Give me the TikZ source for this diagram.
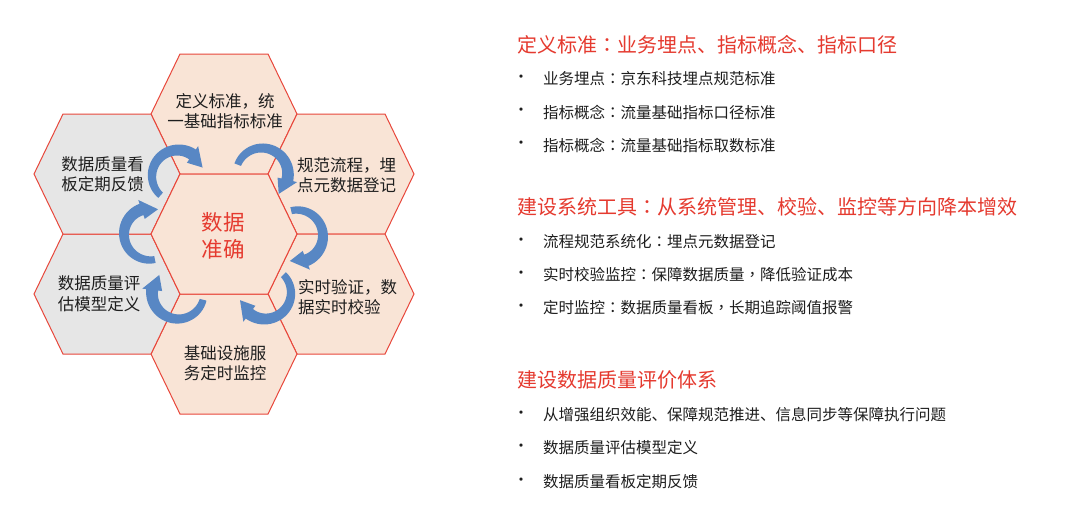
\documentclass[tikz,border=0pt]{standalone}
\usepackage{fontspec}
\setmainfont{Noto Sans CJK SC}
\newfontfamily\tcpunct{Noto Sans CJK TC}
\newcommand\cc{{\tcpunct ：}}
\newcommand\cm{{\tcpunct ，}}
\definecolor{peach}{HTML}{F9E4D6}
\definecolor{hexgray}{HTML}{E6E6E6}
\definecolor{hexred}{HTML}{E8473B}
\definecolor{txtred}{HTML}{E53A2F}
\definecolor{txt}{HTML}{1E1E1E}
\definecolor{arrblue}{HTML}{5887C4}
\newcommand\hexat[3]{\draw[hexline,fill=#3] (#1+73,#2) -- (#1+44,#2+60) -- (#1-44,#2+60) -- (#1-73,#2) -- (#1-44,#2-60) -- (#1+44,#2-60) -- cycle;}
\newcommand\curvarrow[3]{%
 \fill[arrowfill] plot[domain=0:1,samples=30] ({#1+(26+3.5+2.5*\x)*cos(#3+103-172*\x)},{#2-(26+3.5+2.5*\x)*sin(#3+103-172*\x)})
  -- ({#1+36*cos(#3-69)},{#2-36*sin(#3-69)})
  -- ({#1+26*cos(#3-106)},{#2-26*sin(#3-106)})
  -- ({#1+16*cos(#3-69)},{#2-16*sin(#3-69)})
  -- plot[domain=0:1,samples=30] ({#1+(26-6+2.5*\x)*cos(#3-69+172*\x)},{#2-(26-6+2.5*\x)*sin(#3-69+172*\x)})
  -- cycle;}
\begin{document}
\begin{tikzpicture}[x=1pt,y=-1pt,
  hexline/.style={draw=hexred,line width=1pt,line join=miter},
  hextext/.style={font=\fontsize{16.5}{20.5}\selectfont,text=txt,align=center,inner sep=0pt},
  centertext/.style={font=\fontsize{21.5}{27}\selectfont,text=txtred,align=center,inner sep=0pt},
  heading/.style={font=\fontsize{20}{24}\selectfont,text=txtred,anchor=west,inner sep=0pt},
  bullettext/.style={font=\fontsize{15.5}{19}\selectfont,text=txt,anchor=west,inner sep=0pt},
  bulletdot/.style={font=\fontsize{15.5}{19}\selectfont,text=txt,inner sep=0pt},
  arrowfill/.style={fill=arrblue}
]
\fill[white] (0,0) rectangle (1080,528);
\useasboundingbox (0,0) rectangle (1080,528);
% hexagons
\hexat{224}{114}{peach}
\hexat{341}{174}{peach}
\hexat{341}{294}{peach}
\hexat{224}{354}{peach}
\hexat{107}{294}{hexgray}
\hexat{107}{174}{hexgray}
\hexat{224}{234}{peach}
% curved arrows
\curvarrow{178}{176}{125}
\curvarrow{262}{174}{56}
\curvarrow{297}{236}{0}
\curvarrow{265}{293}{-58}
\curvarrow{178}{293}{-118}
\curvarrow{150}{234}{178}
% hexagon texts
\node[hextext] (tT) at (225,111) {定义标准，统\\一基础指标标准};
\node[hextext,align=left,anchor=west] (tUR) at (297,175.5) {规范流程，埋\\点元数据登记};
\node[hextext,align=left,anchor=west] (tLR) at (298,297) {实时验证，数\\据实时校验};
\node[hextext] (tB) at (225,363) {基础设施服\\务定时监控};
\node[hextext] (tLL) at (99,293.5) {数据质量评\\估模型定义};
\node[hextext] (tUL) at (102.5,174.5) {数据质量看\\板定期反馈};
\node[centertext] (tC) at (223,235.5) {数据\\准确};
% right side
\node[heading] (h1) at (517,45) {定义标准\cc 业务埋点、指标概念、指标口径};
\node[bulletdot] (d11) at (521,79) {•};
\node[bullettext] (b11) at (543,79) {业务埋点\cc 京东科技埋点规范标准};
\node[bulletdot] (d12) at (521,112) {•};
\node[bullettext] (b12) at (543,112) {指标概念\cc 流量基础指标口径标准};
\node[bulletdot] (d13) at (521,145) {•};
\node[bullettext] (b13) at (543,145) {指标概念\cc 流量基础指标取数标准};
\node[heading] (h2) at (517,207) {建设系统工具\cc 从系统管理、校验、监控等方向降本增效};
\node[bulletdot] (d21) at (521,242) {•};
\node[bullettext] (b21) at (543,242) {流程规范系统化\cc 埋点元数据登记};
\node[bulletdot] (d22) at (521,275) {•};
\node[bullettext] (b22) at (543,275) {实时校验监控\cc 保障数据质量\cm 降低验证成本};
\node[bulletdot] (d23) at (521,308) {•};
\node[bullettext] (b23) at (543,308) {定时监控\cc 数据质量看板\cm 长期追踪阈值报警};
\node[heading] (h3) at (517,380) {建设数据质量评价体系};
\node[bulletdot] (d31) at (521,415) {•};
\node[bullettext] (b31) at (543,415) {从增强组织效能、保障规范推进、信息同步等保障执行问题};
\node[bulletdot] (d32) at (521,448) {•};
\node[bullettext] (b32) at (543,448) {数据质量评估模型定义};
\node[bulletdot] (d33) at (521,482) {•};
\node[bullettext] (b33) at (543,482) {数据质量看板定期反馈};
\end{tikzpicture}
\end{document}
